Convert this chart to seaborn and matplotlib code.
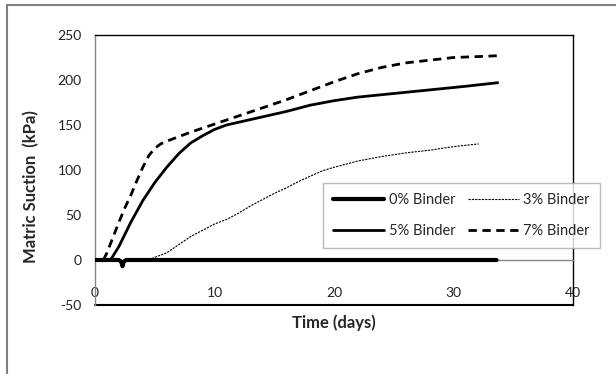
import numpy as np
import pandas as pd
import seaborn as sns
import matplotlib
matplotlib.use("Agg")
import matplotlib.pyplot as plt
from matplotlib.lines import Line2D
from matplotlib.ticker import MultipleLocator

# ---- data ----
t0 = [0, 2.0, 2.2, 2.3, 2.4, 2.6, 10, 20, 30, 33.6]
s0 = [0, 0, -2, -7, -2, 0, 0, 0, 0, 0]

t3 = [4.5, 5, 6, 7, 8, 9, 10, 11, 12, 13, 14, 15, 16, 17, 18, 19, 20, 22, 24, 26, 28, 30, 32.1]
s3 = [0, 3, 8, 17, 26, 33, 40, 45, 52, 60, 67, 74, 80, 87, 93, 99, 103, 110, 115, 119, 122, 126, 129]

t5 = [1.3, 2, 3, 4, 5, 6, 7, 8, 9, 10, 11, 12, 14, 16, 18, 20, 22, 25, 28, 31, 33.7]
s5 = [0, 15, 42, 66, 86, 103, 118, 130, 138, 145, 150, 153, 159, 165, 172, 177, 181, 185, 189, 193, 197]

t7 = [0.7, 1, 1.5, 2, 2.5, 3, 3.5, 4, 4.5, 5, 5.5, 6, 7, 8, 10, 12, 14, 16, 18, 20, 22, 24, 26, 28, 30, 32, 33.7]
s7 = [0, 8, 25, 42, 58, 72, 88, 103, 116, 124, 129, 132, 137, 142, 151, 160, 169, 178, 188, 198, 207, 214, 219, 222, 225, 226, 227]

labels = ["0% Binder", "3% Binder", "5% Binder", "7% Binder"]
x_ticks = [0, 10, 20, 30, 40]
y_ticks = [-50, 0, 50, 100, 150, 200, 250]

sns.set_theme(style="white")
plt.rcParams['font.family'] = ['Lato', 'DejaVu Sans']
plt.rcParams['axes.unicode_minus'] = False

fig = plt.figure(figsize=(6.16, 3.74), dpi=100)
ax = fig.add_axes([95/616, 1-305/374, 478/616, 270/374])

styles = {
    labels[0]: dict(lw=3.0, ls='-'),
    labels[1]: dict(lw=0.8, ls=(0, (2, 1))),
    labels[2]: dict(lw=2.0, ls='-'),
    labels[3]: dict(lw=2.0, ls=(0, (3, 2))),
}
series = [(t0, s0), (t3, s3), (t5, s5), (t7, s7)]
handles = {}
for lab, (tt, ss) in zip(labels, series):
    df = pd.DataFrame({"t": tt, "s": ss})
    sns.lineplot(data=df, x="t", y="s", ax=ax, color="black", sort=False,
                 estimator=None, zorder=3, **styles[lab])
    handles[lab] = Line2D([], [], color="black", **styles[lab])

ax.set_xlim(0, 40)
ax.set_ylim(-50, 250)
ax.set_xticks(x_ticks)
ax.set_yticks(y_ticks)
ax.xaxis.set_minor_locator(MultipleLocator(2))
ax.yaxis.set_minor_locator(MultipleLocator(10))

gray = "#868686"
ax.spines['bottom'].set_position(('data', 0))
ax.spines['bottom'].set_color(gray)
ax.spines['bottom'].set_linewidth(1.0)
ax.spines['left'].set_color(gray)
ax.spines['left'].set_linewidth(1.0)
for s in ['top', 'right']:
    ax.spines[s].set_color('black')
    ax.spines[s].set_linewidth(1.0)
ax.axhline(-50, color='black', lw=1.5, clip_on=False)

ax.tick_params(axis='both', which='major', direction='inout', length=7, width=1, color=gray,
               labelsize=10, labelcolor='#222222')
ax.tick_params(axis='both', which='minor', direction='out', length=3, width=1, color=gray)
ax.tick_params(axis='x', which='major', pad=16)
ax.tick_params(axis='y', which='major', pad=6)

ax.set_xlabel("Time (days)", fontsize=12, fontweight='bold')
ax.set_ylabel("Matric Suction  (kPa)", fontsize=12, fontweight='bold')
ax.xaxis.set_label_coords(0.5, -0.035)
ax.yaxis.set_label_coords(-0.117, 0.44)

order = [labels[0], labels[2], labels[1], labels[3]]
leg = ax.legend([handles[k] for k in order], order, ncol=2, mode='expand',
                bbox_to_anchor=(0.477, 0.211, 0.579, 0.241), loc='lower left',
                fontsize=10.5, frameon=True, fancybox=False, edgecolor='#aaaaaa',
                handlelength=3.5, handletextpad=0.3, columnspacing=1.0,
                borderaxespad=0, labelspacing=1.15, borderpad=0.7)
leg.get_frame().set_linewidth(1.0)
leg.set_zorder(5)

# outer chart border
fig.add_artist(Line2D([7/616, 1], [1-5/374, 1-5/374], color='#7f7f7f', lw=1.5,
                      transform=fig.transFigure))
fig.add_artist(Line2D([7/616, 7/616], [0, 1-5/374], color='#7f7f7f', lw=1.5,
                      transform=fig.transFigure))

fig.savefig("out.png", dpi=100)
